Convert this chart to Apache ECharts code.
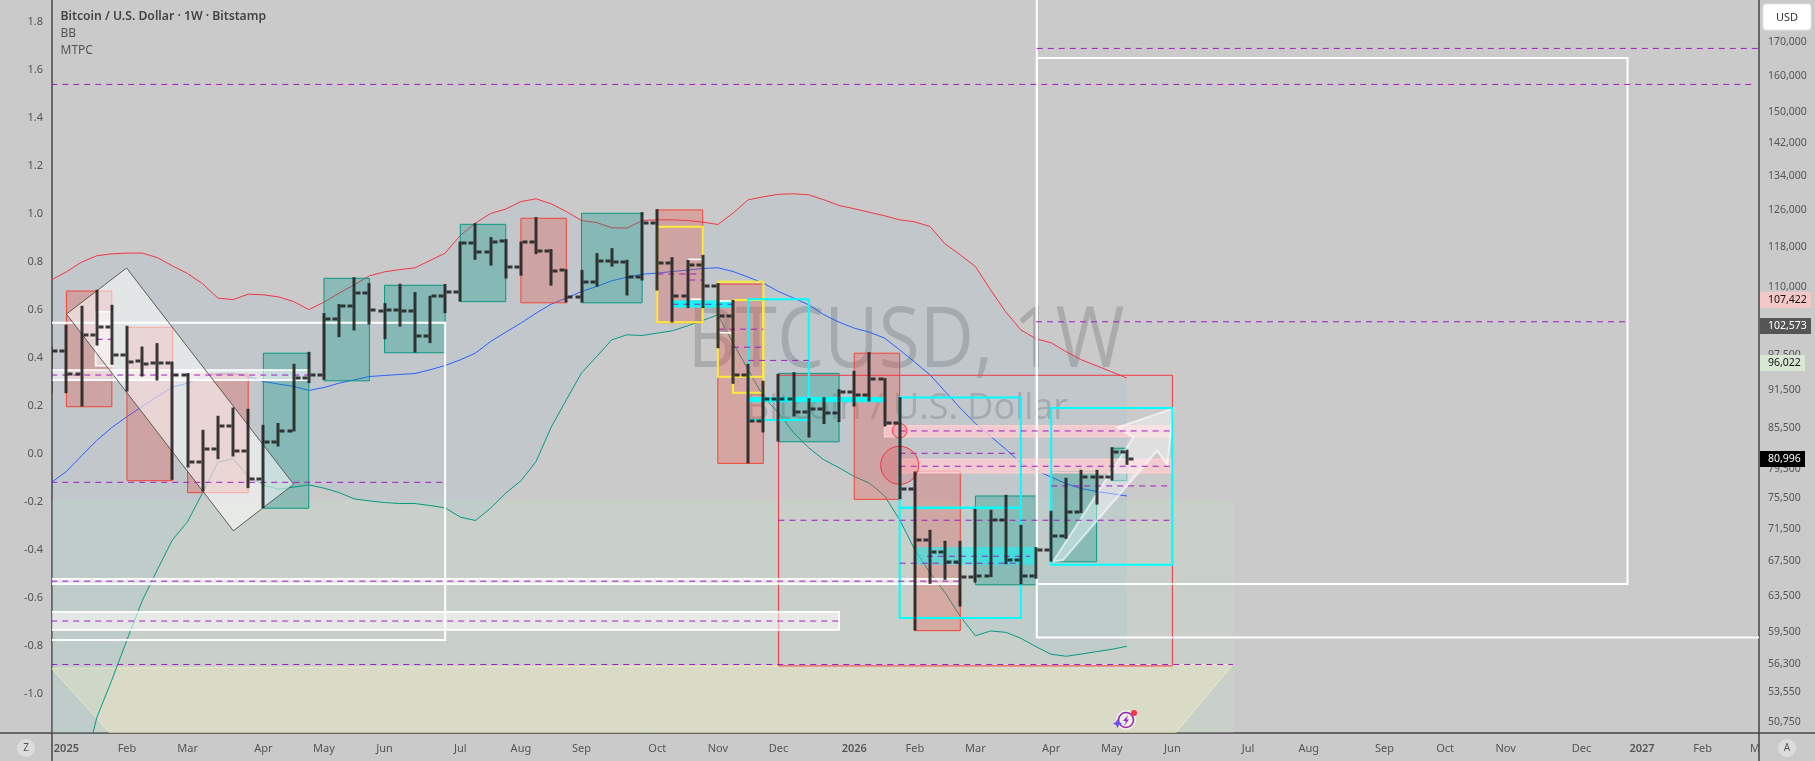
<!DOCTYPE html>
<html>
<head>
<meta charset="utf-8">
<style>html,body{margin:0;padding:0;background:#cacaca;overflow:hidden}#c{width:1815px;height:761px}</style>
<script src="https://cdn.jsdelivr.net/npm/echarts@6/dist/echarts.min.js"></script>
</head>
<body>
<div id="c"></div>
<script>
// ---- weekly bars, first bar = week of 2024-12-30 ----
const startDate = '2024-12-30';
const opens = [95000,98090,94270,100980,102370,97400,96370,95970,96130,94050,80530,82460,85900,82160,78140,83450,85050,93500,94000,103840,106320,108750,105330,105450,105330,100740,108230,108950,118840,116970,119400,113880,119060,117300,113340,108000,110950,115110,114990,111880,123150,114700,108290,114300,110200,104400,94050,86710,90120,90120,88070,88540,87870,91200,90770,93380,86330,76760,70100,68630,67410,65650,65770,72640,67650,65770,68870,70610,73690,78400,78400,81970];
const highs = [98900,102790,106320,109390,106510,102610,98900,99500,96300,94340,85290,87440,88740,88540,86050,86330,95910,97970,104950,106650,111880,110700,106830,110580,108950,108230,110520,119190,123150,120130,119700,119190,124480,117600,113480,113340,116760,117800,115380,125590,126260,115930,115380,116400,110700,107460,95910,93060,94210,94500,90230,90390,91690,94720,97920,93500,90390,79200,71400,70020,70020,74120,73990,75980,72040,69240,73860,78320,79440,79440,82700,82310];
const lows = [91040,91040,88900,99060,95740,91300,93770,93100,78040,79770,76430,80960,81340,76890,74210,82800,85050,92670,93220,100560,101760,102850,100200,102480,97850,99500,104950,107130,115380,114210,111600,112170,116550,110200,106950,106950,110000,114000,108290,111220,109260,103210,105890,105890,98610,92560,80370,84900,83540,87330,84130,86170,86480,88900,89690,85800,75400,59700,64870,65330,62300,65020,65650,67170,64790,65450,67490,70270,73560,74680,77940,80150];
const closes = [98090,94270,100980,102370,97400,96190,95910,96130,94050,80530,82460,85900,82160,78140,83450,85050,93500,94000,103840,106320,108750,105570,105570,105390,100740,108230,108950,118840,116970,119060,113880,119060,117100,113140,108000,110950,115110,114990,111880,123150,114700,108290,114300,110200,104400,94050,86710,90120,90120,88070,88540,87870,91200,90770,93380,86330,76760,70100,68630,67410,65650,65770,72640,67650,65770,68870,70610,73690,78400,78400,81970,80996];

// ---- Bollinger Bands ----
const bbUpper = [111350,112940,114910,116210,116620,116770,116770,115850,114150,112600,110560,107790,107510,108550,108420,108030,107130,105620,107020,108750,110360,112160,112940,113400,113740,115240,116770,120510,123150,125290,126270,127970,128600,127450,125730,123730,123290,122140,122080,123730,123880,123880,123730,123380,122860,125370,128370,129050,129630,129750,129520,128370,127090,126340,125560,124780,123880,123440,122420,118700,116410,114020,109390,105190,101880,100270,99560,97970,96590,95570,94550,93520];
const bbBasis = [77660,79200,81450,83690,85640,87330,88900,90490,92020,92670,93670,94210,94340,93770,92940,92520,92130,91480,91950,92670,93220,93770,93940,94110,94270,94890,95620,96590,97750,99790,101460,103100,104950,106650,107790,109060,110040,111150,111880,112480,112680,113010,113290,113620,113760,113010,111880,110700,109060,107790,106510,104640,103280,102190,101460,100390,98320,96190,94050,91300,88650,86270,84310,82410,80390,79340,78420,77500,76820,76450,76140,75830];
const bbLower = [39710,42640,45780,51110,54680,58720,62930,66500,70140,72460,76290,80530,81000,78500,77340,76750,77030,77340,76890,76290,75440,75170,74950,74820,74820,74550,74250,73030,72590,74210,76210,77900,80620,85700,89960,94340,97150,100090,100980,100860,101290,101700,102610,103580,104640,99500,94890,90490,87860,84840,82600,80860,79720,78500,77580,75850,72680,68910,66150,63840,61210,59150,59650,59510,58880,58010,57230,57030,57260,57500,57740,58050];

// ---- axis ticks ----
const leftTicks = [-1.0,-0.8,-0.6,-0.4,-0.2,0,0.2,0.4,0.6,0.8,1.0,1.2,1.4,1.6,1.8];
const priceTicks = [170000,160000,150000,142000,134000,126000,118000,110000,97500,91500,85500,79500,75500,71500,67500,63500,59500,56300,53550,50750];
const xTickDates = ['2025-01-06','2025-02-03','2025-03-03','2025-04-07','2025-05-05','2025-06-02','2025-07-07','2025-08-04','2025-09-01','2025-10-06','2025-11-03','2025-12-01','2026-01-05','2026-02-02','2026-03-02','2026-04-06','2026-05-04','2026-06-01','2026-07-06','2026-08-03','2026-09-07','2026-10-05','2026-11-02','2026-12-07','2027-01-04','2027-02-01'];
const xTickLabels = ['2025','Feb','Mar','Apr','May','Jun','Jul','Aug','Sep','Oct','Nov','Dec','2026','Feb','Mar','Apr','May','Jun','Jul','Aug','Sep','Oct','Nov','Dec','2027','Feb'];
const priceTags = [107422,102573,96022,80996];

// ---- drawings: [week no, left-axis value, week no, left-axis value] ----
const redBoxes = [[1,.679,4,.197],[5,.528,8,-.111],[9,.333,13,-.161],[31,.982,34,.63],[40,1.017,43,.547],[44,.708,47,-.039],[53,.42,56,-.189],[57,-.071,60,-.736]];
const tealBoxes = [[14,.42,17,-.226],[18,.732,21,.305],[22,.703,26,.422],[27,.957,30,.635],[35,1.003,39,.63],[48,.336,52,.051],[61,-.175,65,-.545],[66,-.074,69,-.449],[70,.024,71,-.111]];
const yellowBoxes = [[40,.947,43,.549],[44,.718,47,.322],[45,.642,47,.255]];
const cyanBoxes = [[46,.645,50,.142],[56,.235,64,-.224],[56,-.224,64,-.683],[66,.192,74,-.461]];
const redFrames = [[48,.328,74,-.883]];
const whiteFrames = [[-1,.547,26,-.775],[65.05,1.95,120,-.765],[65.05,1.65,104.04,-.542]];
const whiteBands = [[-1,.35,17,.308],[-1,-.52,60,-.542],[-1,-.658,52,-.733],[2.93,.593,4.06,.368]];
const pinkBands = [[55,.118,74,.072],[56,-.022,74,-.078]];
const cyanBands = [[41,.6375,45,.6125],[46.1,.235,55,.218]];
const cyanGlow = [[57,-.3875,65,-.461]];
const greenZone = [[-1,-.192,78.05,-1.3]];
const dashedLevels = [[65.05,1.69,112.8],[0,1.54,112.3],[65,.551,104],[0,-.118,25.9],[0,-.877,78],[48,-.276,74],[0,.329,17],[0,-.53,60],[0,-.696,52],[40,.75,43],[42.1,.725,43],[41,.624,45],[44,.52,47],[45,.445,47],[46,.39,50],[56,.096,74],[56,.003,63.6],[56,-.051,74],[66,-.133,74],[57.8,-.426,64.6],[56,-.455,64],[3,.478,4]];
const whiteTicks = [[42,.811,43],[42.2,.645,43],[44.1,.505,44.9],[44.1,.6375,44.9]];
const rotatedBox = [[1,.583],[4.97,.775],[16,-.126],[12.02,-.32]];
const yellowZone = [[0,-.892],[78,-.877],[74.2,-1.1625],[3.88,-1.1625]];
const arrowShape = [[66.12,-.449],[71.42,.07],[70.37,.11],[74.06,.19],[73.67,-.046],[73,.014],[66.78,-.442]];
const circles = [[56,.097,7.3],[56,-.047,19]];

const WEEK = 7*86400000, T0 = Date.parse(startDate);
const t = n => T0 + n*WEEK;
const FONT = '"Noto Sans", sans-serif';
const TXT = '#555555';

function rectSeries(list, style, z){
  return {type:'custom', xAxisIndex:0, yAxisIndex:0, z, clip:true, silent:true,
    encode:{x:[0,2], y:[1,3]},
    data:list.map(r=>[t(r[0]),r[1],t(r[2]),r[3]]),
    renderItem(p,api){
      const a=api.coord([api.value(0),api.value(1)]), b=api.coord([api.value(2),api.value(3)]);
      return {type:'rect', shape:{x:Math.min(a[0],b[0]),y:Math.min(a[1],b[1]),width:Math.abs(b[0]-a[0]),height:Math.abs(b[1]-a[1])}, style};
    }};
}
function lineSeries(list, style, z){
  return {type:'custom', xAxisIndex:0, yAxisIndex:0, z, clip:true, silent:true,
    encode:{x:[0,2], y:[1]},
    data:list.map(r=>[t(r[0]),r[1],t(r[2])]),
    renderItem(p,api){
      const a=api.coord([api.value(0),api.value(1)]), b=api.coord([api.value(2),api.value(1)]);
      return {type:'line', shape:{x1:a[0],y1:a[1],x2:b[0],y2:b[1]}, style};
    }};
}
function polySeries(pts, style, z, yAxisIndex){
  return {type:'custom', xAxisIndex:0, yAxisIndex:yAxisIndex||0, z, clip:true, silent:true,
    encode:{x:0, y:1},
    data:pts,
    renderItem(p,api){
      if(p.dataIndex!==0) return null;
      return {type:'polygon', shape:{points:pts.map(q=>api.coord(q))}, style};
    }};
}
const bbLine=(arr,color)=>({type:'line', xAxisIndex:0, yAxisIndex:1, z:3, silent:true, showSymbol:false, symbol:'none',
  lineStyle:{color,width:1}, data:arr.map((v,i)=>[t(i),v]), clip:true, animation:false});

const bbPoly = bbUpper.map((v,i)=>[t(i),v]).concat(bbLower.map((v,i)=>[t(i),v]).reverse());

const BAR = 'rgba(32,32,32,0.88)';
const barSeries = {type:'custom', xAxisIndex:0, yAxisIndex:1, z:20, clip:true, silent:true,
  encode:{x:0, y:[1,2,3,4]},
  data:opens.map((o,i)=>[t(i),o,highs[i],lows[i],closes[i]]),
  renderItem(p,api){
    const x=Math.round(api.coord([api.value(0),api.value(1)])[0]);
    const yO=api.coord([api.value(0),api.value(1)])[1], yH=api.coord([api.value(0),api.value(2)])[1],
          yL=api.coord([api.value(0),api.value(3)])[1], yC=api.coord([api.value(0),api.value(4)])[1];
    const s={fill:BAR};
    return {type:'group', children:[
      {type:'rect', shape:{x:x-1.5,y:yH,width:3,height:yL-yH}, style:s},
      {type:'rect', shape:{x:x-6.5,y:Math.round(yO)-1.5,width:5,height:3}, style:s},
      {type:'rect', shape:{x:x+1.5,y:Math.round(yC)-1.5,width:5,height:3}, style:s}
    ]};
  }};

const tagStyles = [
  {bg:'#f5c8c8',fg:'#111111',w:51},
  {bg:'#555555',fg:'#ffffff',w:51},
  {bg:'#d9e8d5',fg:'#111111',w:45},
  {bg:'#000000',fg:'#ffffff',w:45}
];
const xMaxMs = t(112.72), xMinMs = t(0.05);
const tagSeries = {type:'custom', xAxisIndex:0, yAxisIndex:1, z:30, clip:false, silent:true,
  encode:{x:0, y:1},
  data:priceTags.map(p=>[xMaxMs,p]),
  renderItem(p,api){
    const c=api.coord([api.value(0),api.value(1)]), s=tagStyles[p.dataIndex];
    return {type:'group', children:[
      {type:'rect', shape:{x:c[0]+1,y:Math.round(c[1])-8,width:s.w,height:16}, style:{fill:s.bg}},
      {type:'text', style:{x:c[0]+9,y:Math.round(c[1]),text:Number(api.value(1)).toLocaleString('en-US'),fill:s.fg,font:'10.5px '+FONT,textAlign:'left',textVerticalAlign:'middle'}}
    ]};
  }};
const circleSeries = {type:'custom', xAxisIndex:0, yAxisIndex:0, z:12, clip:true, silent:true,
  encode:{x:0, y:1},
  data:circles.map(c=>[t(c[0]),c[1],c[2]]),
  renderItem(p,api){
    const c=api.coord([api.value(0),api.value(1)]);
    return {type:'circle', shape:{cx:c[0],cy:c[1],r:api.value(2)}, style:{fill:'rgba(242,54,69,0.2)',stroke:'#f23645',lineWidth:1}};
  }};

const xLabelOf = {};
xTickDates.forEach((d,i)=>{xLabelOf[Date.parse(d)]=xTickLabels[i];});
const T = (x,y,text,font,fill,extra)=>({type:'text', z:100, silent:true, style:Object.assign({x,y,text,font,fill,textVerticalAlign:'middle'},extra||{})});

const chart = echarts.init(document.getElementById('c'),null,{renderer:'canvas',width:1815,height:761});
chart.setOption({
  animation:false, backgroundColor:'#cacaca',
  grid:{left:52,right:56,top:0,bottom:28,containLabel:false},
  xAxis:{type:'value', scale:true, min:xMinMs, max:xMaxMs, splitLine:{show:false}, axisTick:{show:false},
    axisLine:{show:true,onZero:false,lineStyle:{color:'#444444',width:1.5}},
    axisLabel:{customValues:xTickDates.map(d=>Date.parse(d)), margin:10, color:TXT, fontFamily:'"Noto Sans", sans-serif', fontSize:11,
      hideOverlap:false, showMinLabel:true, showMaxLabel:true,
      formatter:v=>{const s=xLabelOf[v]||''; return /^\d/.test(s)?'{b|'+s+'}':s;},
      rich:{b:{fontWeight:600,color:TXT,fontFamily:'"Noto Sans", sans-serif',fontSize:11}}},
  },
  yAxis:[
    {type:'value', position:'left', min:-1.1625, max:1.8917, splitLine:{show:false}, axisTick:{show:false},
      axisLine:{show:true,onZero:false,lineStyle:{color:'#444444',width:1.5}},
      axisLabel:{customValues:leftTicks, margin:9, color:TXT, fontFamily:'"Noto Sans", sans-serif', fontSize:11, formatter:v=>Number(v).toFixed(1)}},
    {type:'log', logBase:10, position:'right', min:49760, max:183100, splitLine:{show:false}, axisTick:{show:false},
      axisLine:{show:true,onZero:false,lineStyle:{color:'#444444',width:1.5}},
      axisLabel:{customValues:priceTicks, margin:9, align:'left', color:TXT, fontFamily:'"Noto Sans", sans-serif', fontSize:10.5, hideOverlap:false,
        formatter:v=>Math.round(Number(v)).toLocaleString('en-US')}}
  ],
  graphic:[
    {type:'text', z:0, silent:true, x:906, y:343, scaleX:0.89, style:{x:0,y:0,text:'BTCUSD, 1W',font:'84px "Open Sans", sans-serif',fill:'#aaabad',textAlign:'center',textVerticalAlign:'middle'}},
    {type:'text', z:0, silent:true, style:{x:907,y:409,text:'Bitcoin / U.S. Dollar',font:'36px "Open Sans", sans-serif',fill:'#aaabad',textAlign:'center',textVerticalAlign:'middle'}},
    T(60.5,17,'Bitcoin / U.S. Dollar · 1W · Bitstamp','600 12.2px '+FONT,'#444444'),
    T(60.5,34,'BB','12px '+FONT,'#555555'),
    T(60.5,51,'MTPC','12px '+FONT,'#555555'),
    {type:'rect', z:100, silent:true, shape:{x:1763,y:4,width:48,height:26,r:3}, style:{fill:'#ffffff',stroke:'#e4e4e4',lineWidth:1}},
    T(1787,17.5,'USD','11px '+FONT,'#333333',{textAlign:'center'}),
    {type:'line', z:100, silent:true, shape:{x1:52,y1:733,x2:52,y2:761}, style:{stroke:'#444444',lineWidth:1.5}},
    {type:'line', z:100, silent:true, shape:{x1:1759,y1:733,x2:1759,y2:761}, style:{stroke:'#444444',lineWidth:1.5}},
    {type:'line', z:100, silent:true, shape:{x1:0,y1:733,x2:52,y2:733}, style:{stroke:'#444444',lineWidth:1.5}},
    {type:'line', z:100, silent:true, shape:{x1:1759,y1:733,x2:1815,y2:733}, style:{stroke:'#444444',lineWidth:1.5}},
    {type:'circle', z:100, silent:true, shape:{cx:26,cy:748,r:9}, style:{fill:'#dcdcdc'}},
    T(26,748,'Z','10px '+FONT,'#555555',{textAlign:'center'}),
    {type:'circle', z:100, silent:true, shape:{cx:1787,cy:748,r:9}, style:{fill:'#dcdcdc'}},
    T(1787,748,'A','10px '+FONT,'#555555',{textAlign:'center'}),
    T(1750,749,'M','11px '+FONT,TXT),
    {type:'circle', z:100, silent:true, shape:{cx:1126,cy:720,r:10}, style:{fill:'#ffffff',opacity:.55}},
    {type:'circle', z:101, silent:true, shape:{cx:1126,cy:720,r:7.5}, style:{fill:'none',stroke:'#9c27b0',lineWidth:1.6}},
    {type:'polygon', z:102, silent:true, shape:{points:[[1128,715],[1123,721],[1126,721],[1124,726],[1129,719.5],[1126.5,719.5]]}, style:{fill:'#9c27b0'}},
    {type:'polygon', z:102, silent:true, shape:{points:[[1117.5,719],[1119,722],[1122,723.5],[1119,725],[1117.5,728],[1116,725],[1113,723.5],[1116,722]]}, style:{fill:'#6a4df5'}},
    {type:'circle', z:102, silent:true, shape:{cx:1134,cy:713,r:3}, style:{fill:'#f23645'}}
  ],
  series:[
    rectSeries(greenZone,{fill:'rgba(200,230,201,0.2)'},1),
    polySeries(yellowZone.map(q=>[t(q[0]),q[1]]),{fill:'rgba(255,250,195,0.3)',stroke:'rgba(255,250,195,0.6)',lineWidth:1},1),
    polySeries(bbPoly,{fill:'rgba(33,150,243,0.05)'},2,1),
    bbLine(bbUpper,'#f23645'), bbLine(bbBasis,'#2962ff'), bbLine(bbLower,'#089981'),
    rectSeries(redBoxes,{fill:'rgba(244,67,54,0.27)',stroke:'#f44336',lineWidth:1},5),
    rectSeries(tealBoxes,{fill:'rgba(0,150,136,0.3)',stroke:'#089981',lineWidth:1},5),
    rectSeries(redFrames,{fill:'none',stroke:'#f23645',lineWidth:1},6),
    rectSeries(whiteBands,{fill:'rgba(255,255,255,0.55)',stroke:'#ffffff',lineWidth:1.6},6),
    rectSeries(pinkBands,{fill:'rgba(255,205,210,0.75)',stroke:'rgba(255,205,210,0.9)',lineWidth:1.5},7),
    rectSeries(whiteFrames,{fill:'none',stroke:'#ffffff',lineWidth:2},8),
    polySeries(rotatedBox.map(q=>[t(q[0]),q[1]]),{fill:'rgba(255,255,255,0.55)',stroke:'#5c5c5c',lineWidth:1},9),
    polySeries(arrowShape.map(q=>[t(q[0]),q[1]]),{fill:'rgba(255,255,255,0.4)',stroke:'rgba(255,255,255,0.6)',lineWidth:2},9),
    rectSeries(cyanGlow,{fill:'rgba(0,255,255,0.5)'},9),
    rectSeries(cyanBands,{fill:'rgba(0,255,255,0.9)',stroke:'#00ffff',lineWidth:1},10),
    rectSeries(yellowBoxes,{fill:'none',stroke:'#ffeb3b',lineWidth:2},10),
    rectSeries(cyanBoxes,{fill:'none',stroke:'#00ffff',lineWidth:2},10),
    lineSeries(whiteTicks,{stroke:'#ffffff',lineWidth:1.6},10),
    lineSeries(dashedLevels,{stroke:'#a31ac4',lineWidth:1,lineDash:[6,5]},11),
    circleSeries,
    barSeries,
    tagSeries
  ]
});
</script>
</body>
</html>
